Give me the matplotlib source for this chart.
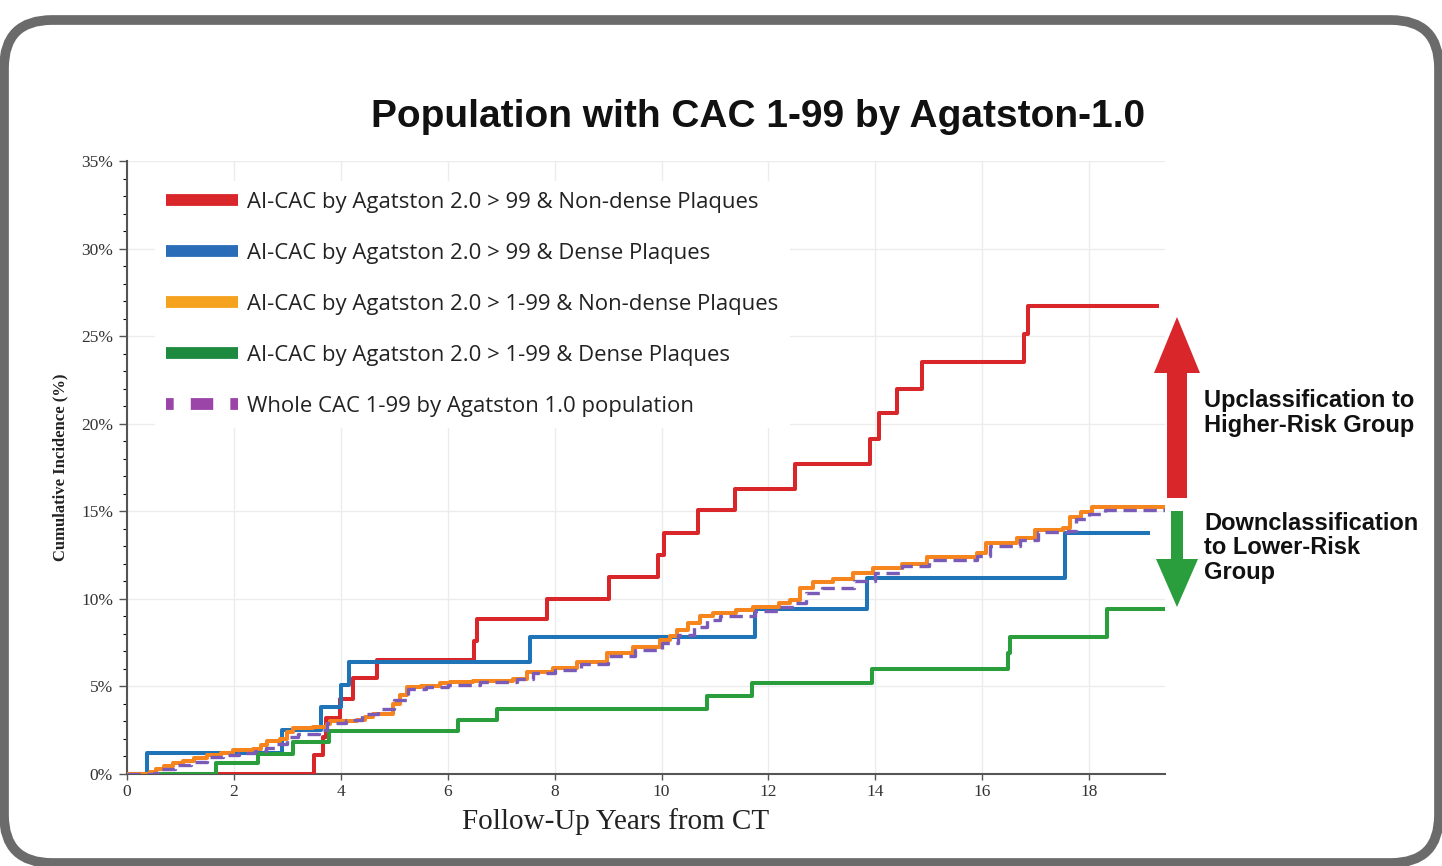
import matplotlib
matplotlib.use("Agg")
import matplotlib.pyplot as plt
from matplotlib.lines import Line2D
from matplotlib.patches import FancyBboxPatch, FancyArrow
from matplotlib.transforms import IdentityTransform
from matplotlib.ticker import MultipleLocator, FuncFormatter

# ---------------- data ----------------
title = "Population with CAC 1-99 by Agatston-1.0"
labels = [
    "AI-CAC by Agatston 2.0 > 99 & Non-dense Plaques",
    "AI-CAC by Agatston 2.0 > 99 & Dense Plaques",
    "AI-CAC by Agatston 2.0 > 1-99 & Non-dense Plaques",
    "AI-CAC by Agatston 2.0 > 1-99 & Dense Plaques",
    "Whole CAC 1-99 by Agatston 1.0 population",
]

red_x = [0, 3.5, 3.66, 3.72, 3.98, 4.22, 4.68, 6.5, 6.55, 7.86, 9.02, 9.93, 10.05,
         10.68, 11.38, 12.5, 13.9, 14.07, 14.4, 14.88, 16.78, 16.85, 19.27]
red_y = [0, 1.1, 2.1, 3.2, 4.3, 5.5, 6.5, 7.6, 8.85, 10.0, 11.25, 12.5, 13.75,
         15.05, 16.3, 17.7, 19.1, 20.6, 22.0, 23.5, 25.1, 26.7, 26.7]

blue_x = [0, 0.38, 2.9, 3.63, 4.0, 4.15, 7.54, 11.75, 13.85, 17.55, 19.1]
blue_y = [0, 1.2, 2.5, 3.8, 5.1, 6.4, 7.8, 9.4, 11.2, 13.75, 13.75]

orange_x = [0, 0.43, 0.55, 0.7, 0.86, 1.05, 1.25, 1.5, 1.75, 1.98, 2.36, 2.5, 2.62,
            2.86, 2.99, 3.1, 3.48, 3.74, 3.8, 4.3, 4.45, 4.6, 4.98, 5.1, 5.24, 5.5,
            5.86, 6.04, 6.48, 7.23, 7.48, 7.97, 8.42, 8.98, 9.47, 9.97, 10.15, 10.29,
            10.5, 10.72, 10.97, 11.4, 11.72, 12.2, 12.4, 12.6, 12.84, 13.2, 13.59,
            13.96, 14.5, 14.97, 15.9, 16.08, 16.65, 16.99, 17.52, 17.65, 17.85, 18.06,
            19.42]
orange_y = [0, 0.1, 0.3, 0.45, 0.6, 0.75, 0.9, 1.1, 1.2, 1.35, 1.45, 1.65, 1.9,
            2.0, 2.4, 2.6, 2.7, 2.85, 3.0, 3.1, 3.25, 3.4, 4.0, 4.5, 4.95, 5.05,
            5.2, 5.25, 5.3, 5.45, 5.8, 6.05, 6.4, 6.9, 7.25, 7.65, 7.9, 8.2,
            8.6, 9.0, 9.2, 9.35, 9.55, 9.75, 9.95, 10.6, 10.95, 11.15, 11.45,
            11.75, 12.0, 12.4, 12.6, 13.2, 13.5, 13.95, 14.05, 14.7, 14.95, 15.25,
            15.25]

green_x = [0, 1.67, 2.45, 3.1, 3.78, 6.2, 6.92, 10.85, 11.7, 13.94, 16.48, 16.52,
           18.34, 19.42]
green_y = [0, 0.6, 1.15, 1.8, 2.45, 3.1, 3.7, 4.45, 5.2, 6.0, 6.9, 7.8, 9.4, 9.4]

purple_x = [0, 0.5, 0.65, 0.9, 1.2, 1.5, 1.8, 2.1, 2.4, 2.6, 2.8, 3.0, 3.2, 3.6,
            3.75, 4.1, 4.4, 4.7, 5.0, 5.25, 5.6, 6.0, 6.6, 7.3, 7.6, 8.0, 8.5, 9.0,
            9.5, 10.0, 10.3, 10.6, 10.85, 11.1, 11.75, 12.2, 12.5, 12.7, 13.0, 13.6,
            14.0, 14.5, 15.0, 15.9, 16.15, 16.7, 17.05, 17.6, 17.75, 18.0, 18.3, 19.42]
purple_y = [0, 0.05, 0.3, 0.5, 0.7, 0.95, 1.1, 1.2, 1.3, 1.5, 1.7, 2.1, 2.3, 2.5,
            2.9, 3.1, 3.4, 3.7, 4.2, 4.85, 4.95, 5.1, 5.25, 5.4, 5.75, 5.95, 6.3, 6.75,
            7.1, 7.5, 7.95, 8.4, 8.8, 9.0, 9.3, 9.55, 9.75, 10.35, 10.6, 11.0,
            11.5, 11.85, 12.2, 12.45, 13.0, 13.35, 13.8, 13.9, 14.55, 14.85, 15.1, 15.2]

x_ticks = [0, 2, 4, 6, 8, 10, 12, 14, 16, 18]
y_ticks = [0, 5, 10, 15, 20, 25, 30, 35]

# ---------------- figure ----------------
W, H = 1442, 866
fig = plt.figure(figsize=(W / 100, H / 100), dpi=100)
fig.patch.set_facecolor("white")

# rounded frame (pixel coordinates)
frame = FancyBboxPatch((4, 3), 1435, 843,
                       boxstyle="round,pad=0,rounding_size=48",
                       transform=IdentityTransform(), facecolor="white",
                       edgecolor="#6b6b6b", linewidth=7, zorder=-5)
fig.patches.append(frame)

ax_l, ax_r, ax_b, ax_t = 127, 1165, 774, 161
ax = fig.add_axes([ax_l / W, 1 - ax_b / H, (ax_r - ax_l) / W, (ax_b - ax_t) / H])
ax.set_facecolor("none")
ax.set_zorder(1)

lw = 2.9
ax.plot(red_x, red_y, drawstyle="steps-post", color="#d8262b", lw=lw, zorder=3)
ax.plot(blue_x, blue_y, drawstyle="steps-post", color="#1f74b8", lw=lw, zorder=3)
ax.plot(green_x, green_y, drawstyle="steps-post", color="#2a9d3c", lw=lw, zorder=3)
ax.plot(orange_x, orange_y, drawstyle="steps-post", color="#f7851e", lw=lw, zorder=3)
ax.plot(purple_x, purple_y, drawstyle="steps-post", color="#7a5cb8", lw=2.4,
        dashes=(4, 2), zorder=4)

ax.set_xlim(0, 19.42)
ax.set_ylim(0, 35)
ax.set_xticks(x_ticks)
ax.set_yticks(y_ticks)
ax.yaxis.set_minor_locator(MultipleLocator(1))
ax.yaxis.set_major_formatter(FuncFormatter(lambda v, p: f"{int(v)}%"))
ax.grid(True, color="#ececec", lw=1.0, zorder=0)
for s in ["top", "right"]:
    ax.spines[s].set_visible(False)
for s in ["left", "bottom"]:
    ax.spines[s].set_color("#555555")
    ax.spines[s].set_linewidth(1.5)
ax.tick_params(axis="both", colors="#555555", labelcolor="#333333")
ax.tick_params(axis="y", which="major", length=6, width=1, pad=4)
ax.tick_params(axis="y", which="minor", length=3, width=0.8)
ax.tick_params(axis="x", which="major", length=4, width=1, pad=3)
for lab in ax.get_xticklabels() + ax.get_yticklabels():
    lab.set_fontfamily("Liberation Serif")
    lab.set_fontsize(12.5)

ax.set_xlabel("Follow-Up Years from CT", family="Liberation Serif", fontsize=21,
              color="#222222")
ax.xaxis.set_label_coords((616 - ax_l) / (ax_r - ax_l), -(822 - ax_b) / (ax_b - ax_t))
ax.xaxis.label.set_va("center")
ax.set_ylabel("Cumulative Incidence (%)", family="Liberation Serif", fontsize=12,
              fontweight="bold", color="#222222")
ax.yaxis.set_label_coords(-(ax_l - 60) / (ax_r - ax_l), (ax_b - 467) / (ax_b - ax_t))
ax.yaxis.label.set_va("center")

# legend
leg_colors = ["#d8262b", "#2a6cb8", "#f5a21e", "#1e8a40", "#9b45a8"]
handles = [Line2D([0], [0], color=c, lw=8.5, solid_capstyle="butt") for c in leg_colors[:4]]
handles.append(Line2D([0], [0], color=leg_colors[4], lw=8.5, dashes=(0.65, 1.45, 1.9, 1.45),
                      dash_capstyle="butt"))
leg = ax.legend(handles, labels, loc="upper left", bbox_to_anchor=(0.027, 0.968),
                prop={"family": "Open Sans", "size": 15.9}, handlelength=3.27,
                handletextpad=0.41, labelspacing=1.36, borderpad=0.5,
                borderaxespad=0, frameon=True, facecolor="white", edgecolor="none",
                framealpha=1, fancybox=False)
for t in leg.get_texts():
    t.set_color("#222222")
leg.set_zorder(5)

# title
fig.text(758 / W, 1 - 117 / H, title, ha="center", va="center",
         family="Liberation Sans", fontweight="bold", fontsize=28, color="#111111")

# arrows
fig.patches.append(FancyArrow(1177, H - 498, 0, 498 - 317, width=20, head_width=46,
                              head_length=56, length_includes_head=True,
                              transform=IdentityTransform(), color="#d8262b", lw=0))
fig.patches.append(FancyArrow(1177, H - 511, 0, -(607 - 511), width=12, head_width=42,
                              head_length=48, length_includes_head=True,
                              transform=IdentityTransform(), color="#2a9d3c", lw=0))

fig.text(1204 / W, 1 - 413 / H, "Upclassification to\nHigher-Risk Group", ha="left",
         va="center", family="Liberation Sans", fontweight="bold", fontsize=17,
         color="#111111", linespacing=1.1)
fig.text(1204 / W, 1 - 548 / H, "Downclassification\nto Lower-Risk\nGroup", ha="left",
         va="center", family="Liberation Sans", fontweight="bold", fontsize=17,
         color="#111111", linespacing=1.1)

fig.savefig("out.png", dpi=100)
